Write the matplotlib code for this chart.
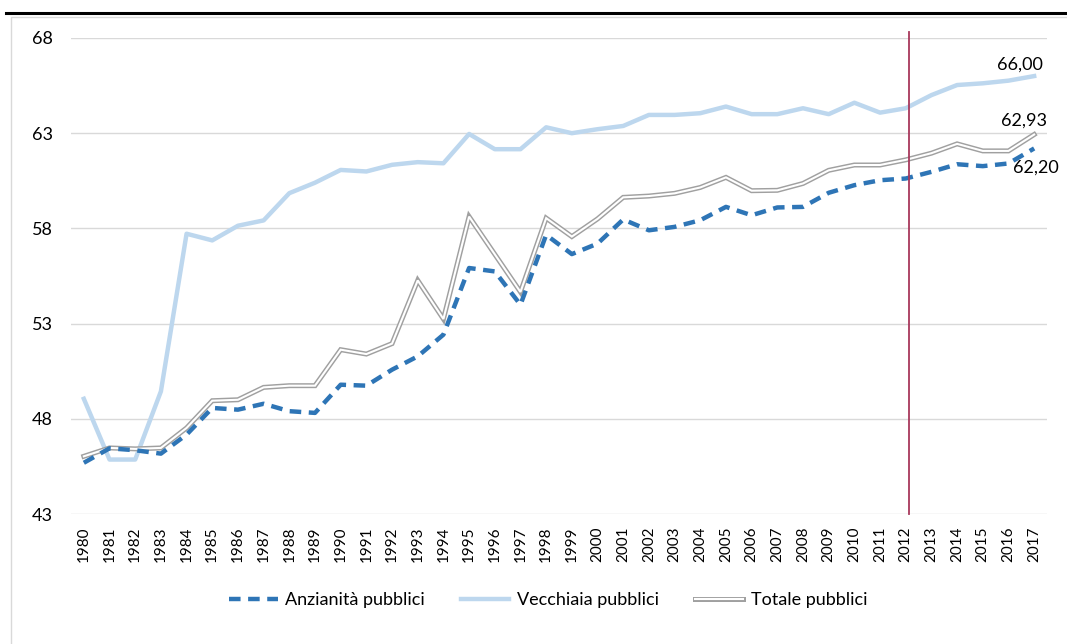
import numpy as np
import matplotlib.pyplot as plt
from matplotlib.lines import Line2D
from matplotlib.patches import Rectangle

plt.rcParams['font.family'] = ['Lato', 'DejaVu Sans']

years = [str(y) for y in range(1980, 2018)]

# eta' media
anzianita = [45.69, 46.45, 46.35, 46.17, 47.17, 48.57, 48.48, 48.79, 48.40, 48.31,
             49.79, 49.74, 50.58, 51.28, 52.42, 55.92, 55.74, 53.99, 57.66, 56.65,
             57.20, 58.47, 57.90, 58.08, 58.43, 59.13, 58.69, 59.10, 59.13, 59.87,
             60.27, 60.53, 60.62, 60.97, 61.37, 61.27, 61.41, 62.20]
vecchiaia = [49.05, 45.86, 45.86, 49.44, 57.72, 57.37, 58.14, 58.42, 59.85, 60.40,
             61.07, 60.99, 61.34, 61.48, 61.42, 62.96, 62.16, 62.16, 63.31, 63.00,
             63.21, 63.38, 63.96, 63.96, 64.05, 64.40, 64.00, 64.00, 64.31, 64.00,
             64.60, 64.08, 64.31, 65.00, 65.53, 65.62, 65.76, 66.00]
totale = [46.03, 46.47, 46.42, 46.47, 47.52, 48.95, 49.00, 49.65, 49.74, 49.74,
          51.63, 51.40, 51.95, 55.27, 53.24, 58.62, 56.64, 54.66, 58.54, 57.57,
          58.50, 59.63, 59.70, 59.84, 60.15, 60.68, 59.98, 60.00, 60.36, 61.05,
          61.33, 61.33, 61.60, 61.95, 62.44, 62.07, 62.07, 62.93]
yticks = [43, 48, 53, 58, 63, 68]
split_year = '2012'

c_anz = '#2E75B6'
c_vec = '#BDD7EE'
c_tot = '#A0A0A0'

fig = plt.figure(figsize=(10.67, 6.44), dpi=100)
W, H = 1067, 644

# cornice e riga nera in alto
fig.add_artist(Line2D([6 / W, 1], [1 - 12.5 / H] * 2, color='black', lw=2.2, transform=fig.transFigure))
fig.add_artist(Rectangle((11 / W, -0.1), 1.2, 1 - 17 / H + 0.1, transform=fig.transFigure,
                         fill=False, edgecolor='#D9D9D9', lw=1))

ax = fig.add_axes([71 / W, 1 - 514 / H, (1047 - 71) / W, (514 - 38) / H])
x = np.arange(len(years))

ax.plot(x, totale, color=c_tot, lw=3.6, zorder=3, solid_joinstyle='miter')
ax.plot(x, totale, color='white', lw=1.5, zorder=3.1, solid_joinstyle='miter')
ax.plot(x, vecchiaia, color=c_vec, lw=3.2, zorder=2)
ax.plot(x, anzianita, color=c_anz, lw=3.2, dashes=(2.6, 1.7), zorder=4)

ax.axvline(years.index(split_year) + 0.12, ymin=0, ymax=1 + 6 / 476, color='#A8385C', lw=1.3,
           clip_on=False, zorder=5)

ax.set_xlim(-0.5, len(years) - 0.5)
ax.set_ylim(43, 68)
ax.set_yticks(yticks)
ax.set_xticks(x)
ax.set_xticklabels(years, rotation=90, fontsize=11)
ax.tick_params(axis='y', length=0, pad=13, labelsize=13)
ax.tick_params(axis='x', length=0, pad=9)
ax.grid(axis='y', color='#D9D9D9', lw=1)
ax.set_axisbelow(True)
for s in ax.spines.values():
    s.set_visible(False)

last = len(years) - 1
ax.annotate('66,00', (last, vecchiaia[-1]), xytext=(-10, 8), textcoords='offset points',
            ha='center', va='center', fontsize=13)
ax.annotate('62,93', (last, totale[-1]), xytext=(-7, 10), textcoords='offset points',
            ha='center', va='center', fontsize=13)
ax.annotate('62,20', (last, anzianita[-1]), xytext=(1, -14), textcoords='offset points',
            ha='center', va='center', fontsize=13)

h_anz = Line2D([], [], color=c_anz, lw=3.2, dashes=(2.6, 1.7))
h_vec = Line2D([], [], color=c_vec, lw=3.2)
h_tot = (Line2D([], [], color=c_tot, lw=3.6), Line2D([], [], color='white', lw=1.5))
fig.legend([h_anz, h_vec, h_tot], ['Anzianità pubblici', 'Vecchiaia pubblici', 'Totale pubblici'],
           loc='center', bbox_to_anchor=(548 / W, 1 - 600 / H), ncol=3, frameon=False,
           fontsize=13, handlelength=2.7, handletextpad=0.4, columnspacing=2.0)

fig.savefig('out.png', dpi=100)
